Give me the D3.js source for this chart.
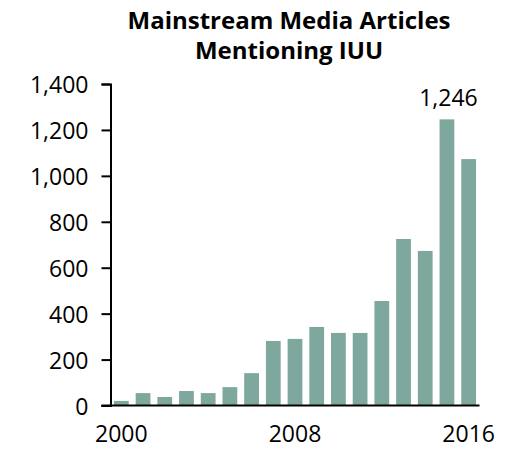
<!DOCTYPE html>
<html>
<head>
<meta charset="utf-8">
<script src="https://cdn.jsdelivr.net/npm/d3@7"></script>
<style>
  html, body { margin: 0; padding: 0; background: #fff; }
  svg { display: block; }
  text { font-family: "Open Sans", sans-serif; fill: #000; }
</style>
</head>
<body>
<svg id="chart" width="510" height="449"></svg>
<script>
const years = [2000, 2001, 2002, 2003, 2004, 2005, 2006, 2007, 2008, 2009, 2010, 2011, 2012, 2013, 2014, 2015, 2016];
const articles = [20, 54, 37, 63, 54, 80, 141, 281, 290, 342, 316, 316, 455, 725, 673, 1246, 1073];
const yTicks = [0, 200, 400, 600, 800, 1000, 1200, 1400];
const xTickLabels = [2000, 2008, 2016];
const titleLines = ["Mainstream Media Articles", "Mentioning IUU"];
const annotatedYear = 2015;

(function () {
const svg = d3.select("#chart");
const mLeft = 110.5, mRight = 479.5, mTop = 84, mBottom = 405.5;
const tickFont = "23px";

const x = d3.scaleBand().domain(years).range([mLeft, mRight]).paddingInner(0.32).paddingOuter(0.16);
const y = d3.scaleLinear().domain([0, 1400]).range([mBottom, mTop]);

// title
svg.append("g").selectAll("text").data(titleLines).join("text")
  .attr("x", 289).attr("y", (d, i) => 29 + i * 30)
  .attr("text-anchor", "middle")
  .style("font-size", "24px").style("font-weight", "bold")
  .text(d => d);

// bars
svg.append("g").selectAll("rect").data(years).join("rect")
  .attr("x", d => x(d))
  .attr("width", x.bandwidth())
  .attr("y", (d, i) => y(articles[i]))
  .attr("height", (d, i) => y(0) - y(articles[i]))
  .attr("fill", "#7ea89d");

// y axis
const yAxis = svg.append("g").attr("transform", `translate(${mLeft},0)`)
  .call(d3.axisLeft(y).tickValues(yTicks).tickSize(9).tickPadding(13).tickFormat(d3.format(",")));
yAxis.select(".domain").attr("stroke", "#000").attr("stroke-width", 2);
yAxis.selectAll(".tick line").attr("stroke", "#000").attr("stroke-width", 2);
yAxis.selectAll(".tick text").style("font-size", tickFont).style("font-family", "'Open Sans', sans-serif").attr("dy", "0.37em");

// x axis
const xAxis = svg.append("g").attr("transform", `translate(0,${mBottom})`)
  .call(d3.axisBottom(x).tickValues(xTickLabels).tickSize(0).tickPadding(20));
xAxis.select(".domain").remove();
xAxis.selectAll(".tick text").style("font-size", tickFont).style("font-family", "'Open Sans', sans-serif");
svg.append("line")
  .attr("x1", mLeft - 9).attr("x2", mRight)
  .attr("y1", y(0)).attr("y2", y(0))
  .attr("stroke", "#000").attr("stroke-width", 2);

// annotation
const ai = years.indexOf(annotatedYear);
svg.append("text")
  .attr("x", x(annotatedYear) + x.bandwidth() / 2 + 1.5)
  .attr("y", y(articles[ai]) - 13)
  .attr("text-anchor", "middle")
  .style("font-size", tickFont)
  .text(d3.format(",")(articles[ai]));
})();
</script>
</body>
</html>
